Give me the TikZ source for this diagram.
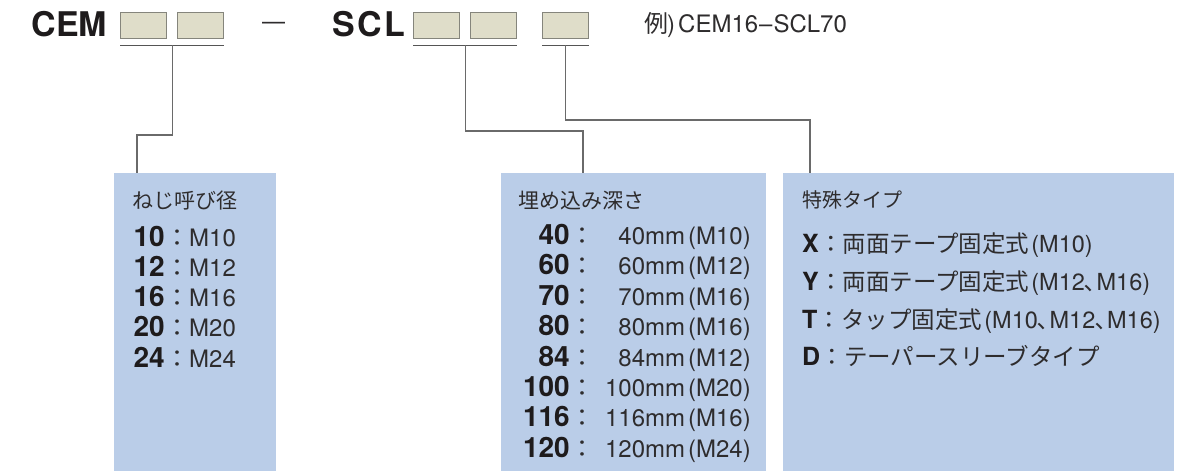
\documentclass[tikz,border=0pt]{standalone}
\usepackage{fontspec}
\setmainfont{TeX Gyre Heros}
\newfontfamily\jp{Noto Sans CJK JP}
\definecolor{slotfill}{HTML}{DFDDC9}
\definecolor{slotline}{HTML}{85857C}
\definecolor{panelblue}{HTML}{BACDE8}
\definecolor{wire}{HTML}{6A6A6A}
\definecolor{ink}{HTML}{1E1B1C}
\definecolor{txt}{HTML}{2E2C2D}
\usetikzlibrary{calc}
\tikzset{
  slot/.style={draw=slotline, fill=slotfill, line width=1.2pt, minimum width=46pt, minimum height=26pt, inner sep=0pt, anchor=north west},
  uline/.style={draw=wire!80!black, line width=1.2pt},
  wire/.style={draw=wire, line width=1.2pt},
  panel/.style={fill=panelblue, inner sep=0pt, anchor=north west, minimum height=298pt},
  hdr/.style={font=\fontsize{34}{40}\selectfont\bfseries, text=ink, inner sep=0pt, anchor=base west},
  ttl/.style={font=\fontsize{21}{25}\selectfont\jp, text=txt, inner sep=0pt, anchor=base west},
  num/.style={font=\fontsize{28}{30}\selectfont\bfseries, text=ink, inner sep=0pt},
  val/.style={font=\fontsize{24}{28}\selectfont, text=txt, inner sep=0pt},
  numc/.style={font=\fontsize{25}{28}\selectfont\bfseries, text=ink, inner sep=0pt, anchor=base west},
  valc/.style={font=\fontsize{23.5}{27}\selectfont, text=txt, inner sep=0pt, anchor=base west},
}
\begin{document}
\begin{tikzpicture}[x=1pt,y=-1pt]
\useasboundingbox (0,0) rectangle (1192,471);
% panels
\node[panel, minimum width=162pt] (p1) at (114,173) {};
\node[panel, minimum width=265pt] (p2) at (501,173) {};
\node[panel, minimum width=391pt] (p3) at (783,173) {};
% header
\node[hdr] (cem) at (31.5,36) {CEM};
\node[slot] (s1) at (120,12) {};
\node[slot] (s2) at (177,12) {};
\node[font=\fontsize{23}{23}\selectfont, text=txt, inner sep=0pt, anchor=base] (dash) at (273.5,29.5) {—};
\node[hdr] (scl) at (332,36) {S\kern2.5pt C\kern2.5pt L};
\node[slot] (s3) at (413,12) {};
\node[slot] (s4) at (470,12) {};
\node[slot] (s5) at (542,12) {};
\node[font=\fontsize{24}{28}\selectfont, text=txt, inner sep=0pt, anchor=base west] (ex) at (644,32) {{\jp 例}\kern-1pt)\kern3pt CEM16\kern1pt–\kern1pt SCL70};
% underlines
\draw[uline] ([yshift=-6pt]s1.south west) -- coordinate (m1) ([yshift=-6pt]s2.south east);
\draw[uline] ([yshift=-6pt]s3.south west) -- coordinate (m2) ([yshift=-6pt]s4.south east);
\draw[uline] ([yshift=-6pt]s5.south west) -- coordinate (m3) ([yshift=-6pt]s5.south east);
% connectors
\coordinate (k1) at (137,135);
\coordinate (k2) at (583,131);
\coordinate (k3) at (810,120);
\draw[wire] (m1) |- (k1) -- (k1 |- p1.north);
\draw[wire] (m2) |- (k2) -- (k2 |- p2.north);
\draw[wire] (m3) |- (k3) -- (k3 |- p3.north);
% panel 1
\node[ttl] (t1) at (132,208) {ねじ呼び径};
\foreach \n/\v [count=\i] in {10/M10,12/M12,16/M16,20/M20,24/M24}{
  \node[num, anchor=base east] (a\i) at (165,{246+30.3*(\i-1)}) {\n};
  \node[val, anchor=base west] (b\i) at (a\i.base east) {{\jp ：}\v};
}
% panel 2
\node[ttl] (t2) at (518,208) {埋め込み深さ};
\foreach \n/\d/\v [count=\i] in {40/40/M10,60/60/M12,70/70/M16,80/80/M16,84/84/M12,100/100/M20,116/116/M16,120/120/M24}{
  \node[num, anchor=base east] (c\i) at (570,{244.5+30.4*(\i-1)}) {\n};
  \node[val, anchor=base west] (d\i) at (c\i.base east) {{\jp ：}};
  \node[val, anchor=base east] (e\i) at (751,{244.5+30.4*(\i-1)}) {\d mm\kern3pt(\v)};
}
% panel 3
\node[ttl, font=\fontsize{20}{24}\selectfont\jp] (t3) at (802,207) {特殊タイプ};
\node[numc] (x1) at (802,252) {X};
\node[valc] (y1) at (x1.base east) {{\jp ：両面テープ固定式}\kern2pt(M10)};
\node[numc] (x2) at (802,290) {Y};
\node[valc] (y2) at (x2.base east) {{\jp ：両面テープ固定式}\kern2pt(M12{\jp ､}M16)};
\node[numc] (x3) at (802,328) {T};
\node[valc] (y3) at (x3.base east) {{\jp ：タップ固定式}\kern2pt(M10{\jp ､}M12{\jp ､}M16)};
\node[numc] (x4) at (802,365) {D};
\node[valc] (y4) at (x4.base east) {{\jp ：テーパースリーブタイプ}};
\end{tikzpicture}
\end{document}
